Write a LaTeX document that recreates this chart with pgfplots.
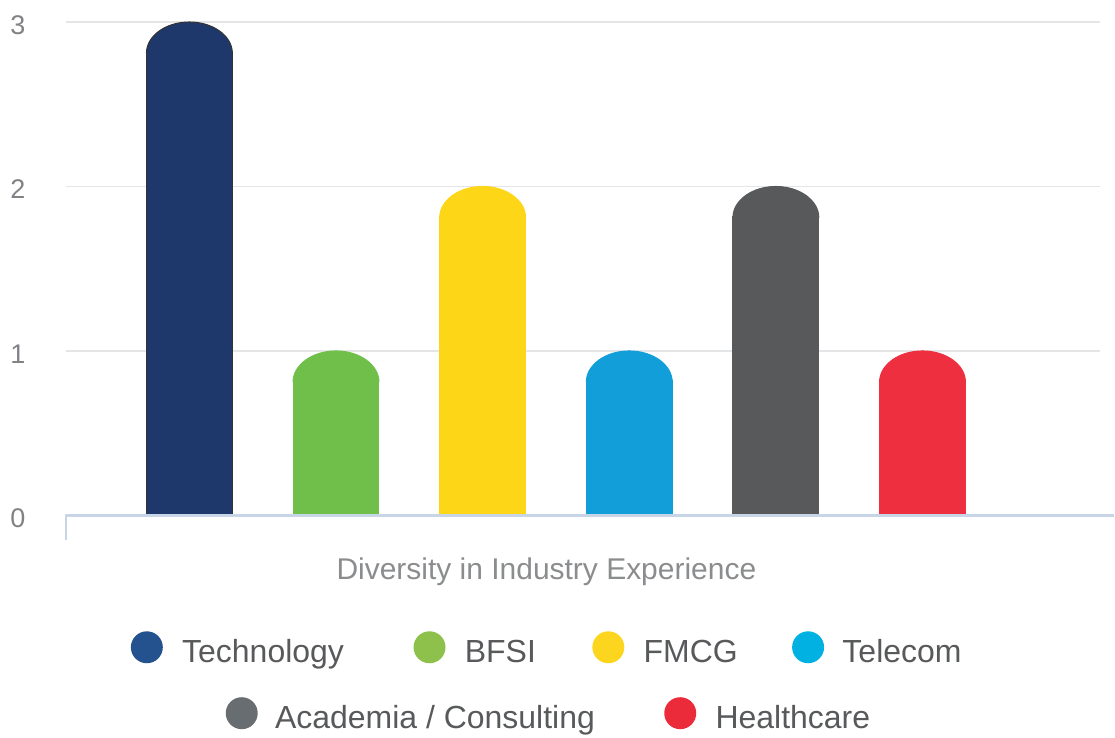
\documentclass[border=0pt]{standalone}
\usepackage{fontspec}
\setmainfont{Liberation Sans}
\usepackage{pgfplots}
\pgfplotsset{compat=1.18}

\definecolor{techbar}{HTML}{1F386B}
\definecolor{bfsibar}{HTML}{71BF4B}
\definecolor{fmcgbar}{HTML}{FCD617}
\definecolor{telebar}{HTML}{129FD9}
\definecolor{acadbar}{HTML}{58595B}
\definecolor{healbar}{HTML}{EE2F3F}
\definecolor{techleg}{HTML}{23528F}
\definecolor{bfsileg}{HTML}{8DC14B}
\definecolor{fmcgleg}{HTML}{FCD51E}
\definecolor{teleleg}{HTML}{00B1E2}
\definecolor{acadleg}{HTML}{686D71}
\definecolor{healleg}{HTML}{EC2B3A}
\definecolor{gridgray}{HTML}{E4E5E6}
\definecolor{axisblue}{HTML}{C8D5E6}
\definecolor{tickgray}{HTML}{808285}
\definecolor{labelgray}{HTML}{8A8C8E}
\definecolor{leggray}{HTML}{58595B}

% rounded top of a bar: half ellipse whose top sits on the data point
\pgfdeclareplotmark{cap}{%
  \pgfpathmoveto{\pgfqpoint{-21.5pt}{-15.6pt}}%
  \pgfpatharc{180}{0}{21.5pt and 15.6pt}%
  \pgfpathclose
  \pgfusepathqfill
  \pgfpathmoveto{\pgfqpoint{-21.5pt}{-15.6pt}}%
  \pgfpatharc{180}{0}{21.5pt and 15.6pt}%
  \pgfusepathqstroke
}

\newcommand{\capbar}[4]{%
  \addplot[ybar, bar width=43pt, bar shift=0pt, fill=#3, draw=#4, line width=0.5pt,
    y filter/.expression={y-0.1822}, forget plot] coordinates {(#1,#2)};
  \addplot[only marks, mark=cap, mark options={fill=#3, draw=#4, line width=0.5pt},
    forget plot] coordinates {(#1,#2)};
}

\tikzset{px/.style={x=0.5pt, y=-0.5pt, shift={(-66,-516)}}}

\begin{document}
\begin{tikzpicture}
\begin{scope}[px]
  \useasboundingbox (0,0) rectangle (1115,738);
\end{scope}

\begin{axis}[
    at={(0,0)}, anchor=south west, scale only axis,
    width=517.5pt, height=247pt,
    xmin=-0.842, xmax=6.209, ymin=0, ymax=3,
    ytick={0,1,2,3}, xtick=\empty,
    ymajorgrids, grid style={color=gridgray, line width=0.8pt},
    major tick length=0pt,
    axis line style={draw=none},
    clip=false,
    yticklabel style={anchor=center, xshift=-24pt, yshift=-1.5pt, text=tickgray,
      font=\fontsize{13.5}{15}\selectfont},
    /pgf/number format/assume math mode=true,
]
\capbar{0}{3}{techbar}{black!80}
\capbar{1}{1}{bfsibar}{bfsibar}
\capbar{2}{2}{fmcgbar}{fmcgbar}
\capbar{3}{1}{telebar}{telebar}
\capbar{4}{2}{acadbar}{acadbar}
\capbar{5}{1}{healbar}{healbar}
\end{axis}

\begin{scope}[px]
  \draw[axisblue, line width=1.25pt] (66,541) -- (66,516) -- (1115,516);
  \node[anchor=base, inner sep=0pt, text=labelgray, font=\fontsize{15}{17}\selectfont]
    at (547,580) {Diversity in Industry Experience};
  \begin{scope}[every node/.style={anchor=base west, inner sep=0pt, text=leggray,
      font=\fontsize{16}{18}\selectfont}]
    \fill[techleg] (147,648) circle (16);
    \node at (182,663) {Technology};
    \fill[bfsileg] (430,648) circle (16);
    \node at (465,663) {BFSI};
    \fill[fmcgleg] (609,648) circle (16);
    \node at (644,663) {FMCG};
    \fill[teleleg] (809,648) circle (16);
    \node at (843,663) {Telecom};
    \fill[acadleg] (242,714) circle (16);
    \node at (275,729) {Academia / Consulting};
    \fill[healleg] (681,714) circle (16);
    \node at (716,729) {Healthcare};
  \end{scope}
\end{scope}
\end{tikzpicture}
\end{document}
